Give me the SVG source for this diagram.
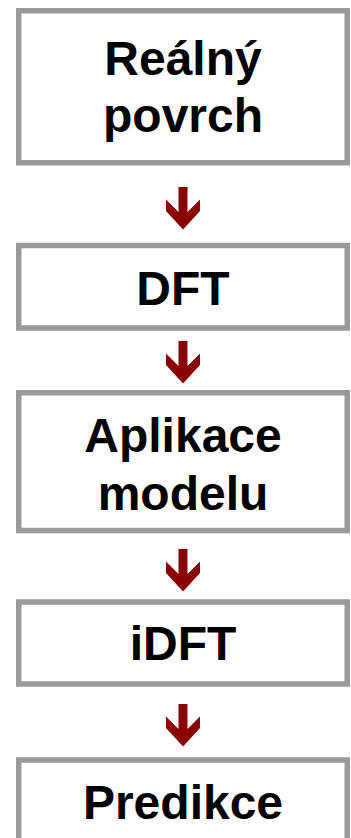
<svg xmlns="http://www.w3.org/2000/svg" width="351" height="838" viewBox="0 0 351 838">
  <style>
    .box { fill: #ffffff; stroke: #9a9a9a; stroke-width: 5.5; }
    .lbl { font-family: "Liberation Sans", Arial, sans-serif; font-weight: bold; font-size: 48px; fill: #000000; text-anchor: middle; }
    .arr { fill: #8b0000; }
  </style>
  <defs>
    <polygon id="arrow" class="arr" points="-4.5,0 4.5,0 4.5,25 17,12.5 17,24 0,42.5 -17,24 -17,12.5 -4.5,25"/>
  </defs>
  <rect width="351" height="838" fill="#ffffff"/>
  <g id="node-realny-povrch">
    <rect class="box" x="18.75" y="10.75" width="328.5" height="152"/>
    <text class="lbl" x="183" y="75">Reálný</text>
    <text class="lbl" x="183" y="132">povrch</text>
  </g>
  <g id="node-dft">
    <rect class="box" x="18.75" y="245.5" width="328.5" height="82.5"/>
    <text class="lbl" x="183" y="305">DFT</text>
  </g>
  <g id="node-aplikace-modelu">
    <rect class="box" x="18.75" y="392.75" width="328.5" height="137.8"/>
    <text class="lbl" x="183" y="452">Aplikace</text>
    <text class="lbl" x="183" y="510">modelu</text>
  </g>
  <g id="node-idft">
    <rect class="box" x="18.75" y="602" width="328.5" height="82"/>
    <text class="lbl" x="183" y="660">iDFT</text>
  </g>
  <g id="node-predikce">
    <rect class="box" x="18.75" y="760" width="328.5" height="100"/>
    <text class="lbl" x="183" y="819">Predikce</text>
  </g>
  <g id="connectors">
    <use href="#arrow" x="183" y="187"/>
    <use href="#arrow" x="183" y="341"/>
    <use href="#arrow" x="183" y="549"/>
    <use href="#arrow" x="183" y="704"/>
  </g>
</svg>
